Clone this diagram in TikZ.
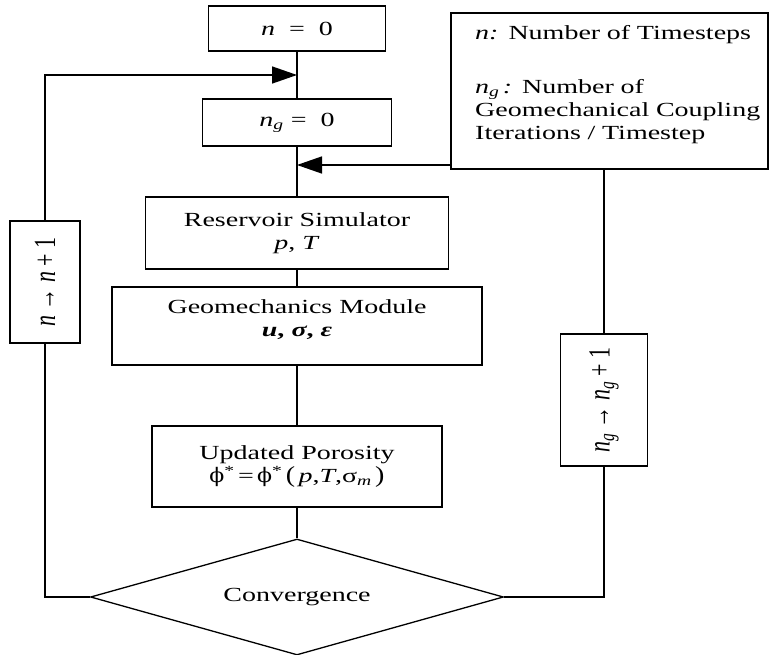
\documentclass[tikz,border=0pt]{standalone}
\usepackage{fontspec}
\setmainfont{Liberation Serif}[FakeStretch=1.4]
\newfontfamily\upfont{Liberation Serif}
\newfontfamily\phifont{DejaVu Serif}
\usepackage{graphicx}
\usetikzlibrary{arrows.meta,shapes.geometric,calc}

\tikzset{
  box/.style={draw,line width=1.5pt,inner sep=0pt,align=center},
  link/.style={line width=1.5pt},
  tip/.style={-{Triangle[length=25pt,width=17pt]}},
}
\newcommand{\sidetxt}[1]{\rotatebox{90}{\upfont\fontsize{22}{24}\selectfont\scalebox{1}[1.4]{#1}}}
\newcommand{\phis}{{\phifont\scalebox{1.1}[1]{ϕ}}\raisebox{-0.1ex}{\textsuperscript{*}}}

\begin{document}
\begin{tikzpicture}[x=1pt,y=-1pt,font=\fontsize{20}{23}\selectfont]
    \useasboundingbox (0,0) rectangle (770,655);
    \coordinate(ja)at(297,75);
    \coordinate(jb)at(297,165);

    \node[box,minimum width=177pt,minimum height=45pt](nzero)at(297,28.5){\textit{n}\ \ =\ \ 0};
    \node[box,minimum width=189pt,minimum height=47pt](ngzero)at(297,122.5){\textit{n}\textsubscript{\textit{g}}\ =\ \ 0};
    \node[box,minimum width=303pt,minimum height=72pt](res)at(297,233){Reservoir Simulator\\\textit{p}, \textit{T}};
    \node[box,minimum width=370pt,minimum height=78pt](geo)at(297,326){Geomechanics Module\\\textbf{\textit{u}, \textit{σ}, \textit{ε}}\\[-8pt]};
    \node[box,minimum width=290pt,minimum height=81pt](poro)at(297,466.5){Updated Porosity\\\phis\,=\,\phis\,\scalebox{1}[1.15]{(}\,\textit{p},\textit{T},σ\textsubscript{\textit{m}}\,\scalebox{1}[1.15]{)}};
    \node[draw,line width=1.3pt,shape=diamond,aspect=3.56,inner sep=0pt,minimum width=413pt,minimum height=116pt](conv)at(297,597){Convergence};

    \node[box,minimum width=70pt,minimum height=122pt](lbox)at(45,282){\sidetxt{\textit{n} → \textit{n} + 1}};
    \node[box,minimum width=87pt,minimum height=132pt](rbox)at(604,400){\sidetxt{\textit{n}\textsubscript{\textit{g}} → \textit{n}\textsubscript{\textit{g}} + 1}};

    \node[box,minimum width=317pt,minimum height=156pt](legend)at(609.5,91){};
    \node[anchor=north west,inner sep=0pt,align=left,text width=290pt](legtxt)at(475,25){%
      \textit{n:} Number of Timesteps\\[31pt]
      \textit{n}\textsubscript{\textit{g}}\,\textit{:} Number of\\
      Geomechanical Coupling\\
      Iterations / Timestep};

    \draw[link](nzero)--(ngzero) (ngzero)--(res) (res)--(geo) (geo)--(poro) (poro)--(conv);
    \draw[link](conv.west)-|(lbox.south);
    \draw[link,tip](lbox.north)--(lbox.north|-ja)--(ja);
    \draw[link](conv.east)-|(rbox.south);
    \draw[link](rbox.north)--(rbox.north|-legend.south);
    \draw[link,tip](legend.west|-jb)--(jb);
\end{tikzpicture}
\end{document}
